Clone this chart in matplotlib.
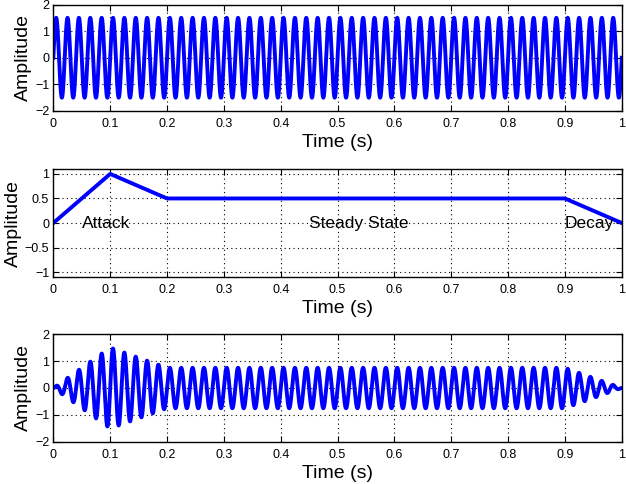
import numpy as np
import matplotlib
matplotlib.use('Agg')
import matplotlib.pyplot as plt

# tone
tone_freq = 50.0      # Hz
tone_amp = 1.5
fs = 8000

# ADSR-style envelope breakpoints
env_t = [0.0, 0.1, 0.2, 0.9, 1.0]
env_a = [0.0, 1.0, 0.5, 0.5, 0.0]

# stage names and where they are written
stage_names = ['Attack', 'Steady State', 'Decay']
stage_x = [0.05, 0.45, 0.9]

t = np.arange(0, 1 + 1 / fs, 1 / fs)
tone = tone_amp * np.sin(2 * np.pi * tone_freq * t)
env = np.interp(t, env_t, env_a)
shaped = tone * env

plt.rcParams['font.family'] = ['Liberation Sans', 'DejaVu Sans']
fig = plt.figure(figsize=(6.26, 4.84), dpi=100)

left, width = 0.0852, 0.908
ax1 = fig.add_axes([left, 0.7707, width, 0.220])
ax2 = fig.add_axes([left, 0.4277, width, 0.2231])
ax3 = fig.add_axes([left, 0.0868, width, 0.2231])

blue = '#0000ff'
ax1.plot(t, tone, color=blue, lw=2.8)
ax2.plot(env_t, env_a, color=blue, lw=2.8)
ax3.plot(t, shaped, color=blue, lw=2.8)

for name, x in zip(stage_names, stage_x):
    ax2.text(x, 0, name, ha='left', va='center', fontsize=12.5)

ax1.set_ylim(-2, 2)
ax1.set_yticks([-2, -1, 0, 1, 2])
ax2.set_ylim(-1.1, 1.1)
ax2.set_yticks([-1, -0.5, 0, 0.5, 1])
ax2.set_yticklabels(['\u22121', '\u22120.5', '0', '0.5', '1'])
ax3.set_ylim(-2, 2)
ax3.set_yticks([-2, -1, 0, 1, 2])

xt = np.round(np.arange(0, 1.01, 0.1), 1)
for ax in (ax1, ax2, ax3):
    ax.set_xlim(0, 1)
    ax.set_xticks(xt)
    ax.set_xticklabels(['0'] + ['%.1f' % v for v in xt[1:-1]] + ['1'])
    ax.grid(True, color='black', linestyle=(0, (1, 3)), linewidth=0.8)
    ax.tick_params(direction='in', top=True, right=True, labelsize=9, length=4)
    ax.tick_params(axis='x', pad=5)
    ax.tick_params(axis='y', pad=3)
    ax.set_xlabel('Time (s)', fontsize=14, labelpad=3)
    ax.set_ylabel('Amplitude', fontsize=14, labelpad=2)
    for s in ax.spines.values():
        s.set_linewidth(1.0)

fig.savefig('out.png', dpi=100)
